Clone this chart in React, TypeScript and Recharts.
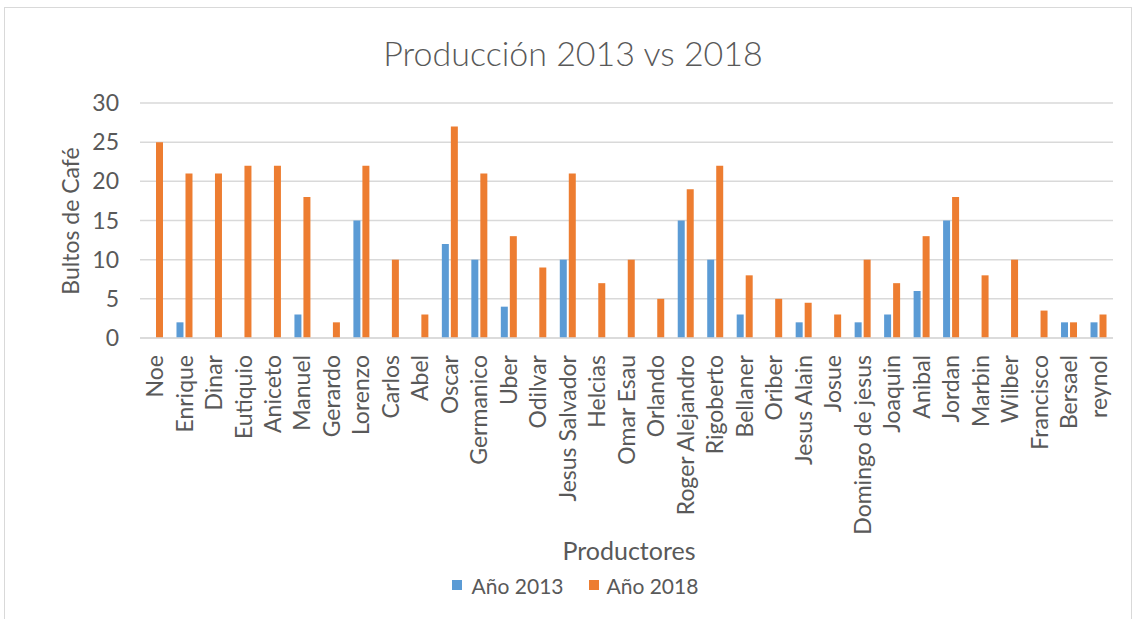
import React from 'react';
import { BarChart, Bar, XAxis, YAxis, CartesianGrid } from 'recharts';

const categories = ['Noe','Enrique','Dinar','Eutiquio','Aniceto','Manuel','Gerardo','Lorenzo','Carlos','Abel','Oscar','Germanico','Uber','Odilvar','Jesus Salvador','Helcias','Omar Esau','Orlando','Roger Alejandro','Rigoberto','Bellaner','Oriber','Jesus Alain','Josue','Domingo de jesus','Joaquin','Anibal','Jordan','Marbin','Wilber','Francisco','Bersael','reynol'];
const year2013 = [0,2,0,0,0,3,0,15,0,0,12,10,4,0,10,0,0,0,15,10,3,0,2,0,2,3,6,15,0,0,0,2,2];
const year2018 = [25,21,21,22,22,18,2,22,10,3,27,21,13,9,21,7,10,5,19,22,8,5,4.5,3,10,7,13,18,8,10,3.5,2,3];
const yTicks = [0,5,10,15,20,25,30];

const data = categories.map((name, i) => ({ name, a2013: year2013[i], a2018: year2018[i] }));

const FONT = 'Lato, "Open Sans", sans-serif';
const TXT = '#595959';

export default function App() {
  return (
    <div style={{ position: 'absolute', left: 4, top: 7, width: 1126, height: 612, border: '1px solid #d9d9d9', background: '#fff', fontFamily: FONT }}>
      <div style={{ position: 'absolute', left: 0, width: 1136, top: 23, textAlign: 'center', fontSize: 34, color: TXT, fontWeight: 300, lineHeight: '44px' }}>Producción 2013 vs 2018</div>
      <div style={{ position: 'absolute', left: -35, top: 201, width: 200, height: 24, lineHeight: '24px', textAlign: 'center', fontSize: 23, color: TXT, transform: 'rotate(-90deg)', transformOrigin: '100px 12px' }}>Bultos de Café</div>
      <div style={{ position: 'absolute', left: 0, width: 1248, top: 527, textAlign: 'center', fontSize: 25, color: TXT, lineHeight: '30px' }}>Productores</div>
      <div style={{ position: 'absolute', left: 0, width: 1140, top: 563, height: 28, display: 'flex', justifyContent: 'center', alignItems: 'center', fontSize: 21, color: TXT }}>
        <span style={{ display: 'inline-block', width: 10, height: 10, background: '#5b9bd5', marginRight: 10 }} />
        <span style={{ marginRight: 25 }}>Año 2013</span>
        <span style={{ display: 'inline-block', width: 10, height: 10, background: '#ed7d31', marginRight: 8 }} />
        <span>Año 2018</span>
      </div>
      <div style={{ position: 'absolute', left: 0, top: 0 }}>
        <BarChart width={1126} height={612} data={data} margin={{ top: 95, right: 18, bottom: 82, left: 0 }} barSize={7} barGap={2}>
          <CartesianGrid vertical={false} stroke="#d9d9d9" strokeWidth={1.5} />
          <YAxis width={135} domain={[0, 30]} ticks={yTicks} axisLine={false} tickLine={false} tick={{ fill: TXT, fontSize: 23, fontFamily: FONT }} tickMargin={15} />
          <XAxis dataKey="name" interval={0} height={200} axisLine={{ stroke: '#d9d9d9', strokeWidth: 1.5 }} tickLine={false} angle={-90} textAnchor="end" dy={-9} dx={-8} tick={{ fill: TXT, fontSize: 23, fontFamily: FONT }} tickMargin={20} />
          <Bar dataKey="a2013" fill="#5b9bd5" isAnimationActive={false} />
          <Bar dataKey="a2018" fill="#ed7d31" isAnimationActive={false} />
        </BarChart>
      </div>
    </div>
  );
}
